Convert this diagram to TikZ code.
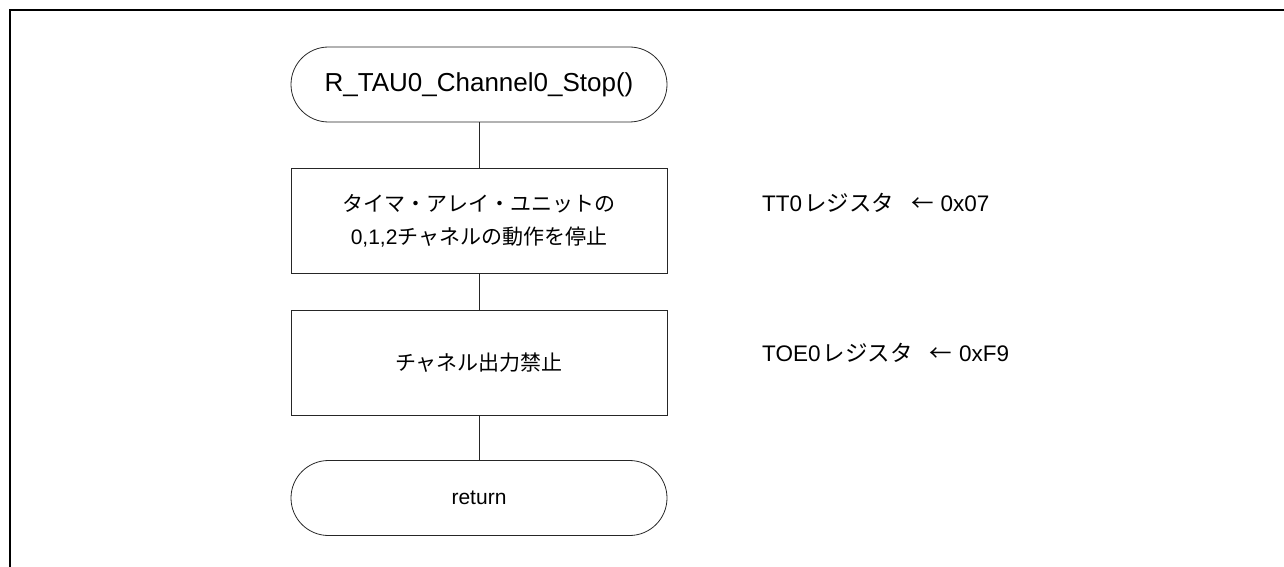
\documentclass[tikz,border=0pt]{standalone}
\usepackage{fontspec}
\setmainfont{Liberation Sans}
\newfontfamily\jp{Noto Sans CJK JP}
\begin{document}
\begin{tikzpicture}[x=1pt,y=-1pt,
  term/.style={draw=black!85, line width=0.8pt, rounded corners=37.5pt, minimum width=376pt, minimum height=75pt, inner sep=0pt},
  proc/.style={draw=black!85, line width=0.8pt, minimum width=376pt, minimum height=105pt, inner sep=0pt, align=center, font=\fontsize{21}{33}\selectfont},
  lbl/.style={anchor=base west, inner sep=0pt, font=\fontsize{22.5}{26}\selectfont},
  link/.style={draw=black!85, line width=0.8pt},
  frame/.style={draw=black, line width=2pt}]
\useasboundingbox (0,0) rectangle (1284,567);
\coordinate (fb) at (10,568);
\coordinate (fc) at (10,10);
\coordinate (fr) at (1285,10);
\draw[frame] (fb) -- (fc) -- (fr);
\node[term, font=\fontsize{26}{30}\selectfont] (start) at (479,84.5) {R\_TAU0\_Channel0\_Stop()};
\node[proc] (b1) at (479,221) {{\jp タイマ・アレイ・ユニットの}\\0,1,2{\jp チャネルの動作を停止}};
\node[proc] (b2) at (479,362.5) {{\jp チャネル出力禁止}};
\node[term, font=\fontsize{21}{25}\selectfont] (ret) at (479,498) {return};
\draw[link] (start) -- (b1);
\draw[link] (b1) -- (b2);
\draw[link] (b2) -- (ret);
\node[lbl] (l1) at (762,211) {TT0\hspace{2pt}{\jp レジスタ}\hspace{17pt}{\jp ←}\hspace{7pt}0x07};
\node[lbl] (l2) at (762,361) {TOE0\hspace{2pt}{\jp レジスタ}\hspace{17pt}{\jp ←}\hspace{7pt}0xF9};
\end{tikzpicture}
\end{document}
